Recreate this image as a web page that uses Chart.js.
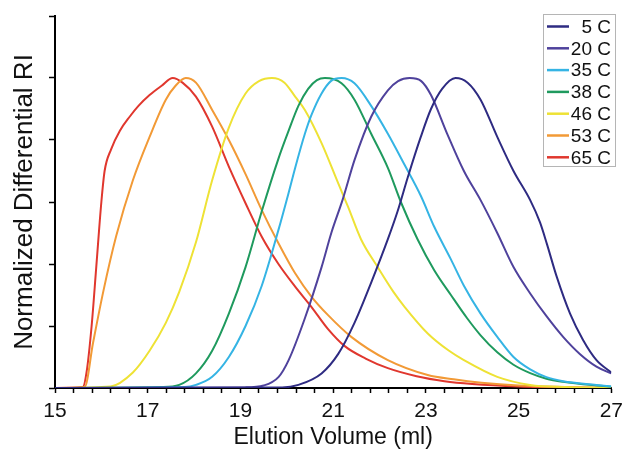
<!DOCTYPE html>
<html>
<head>
<meta charset="utf-8">
<script src="https://cdn.jsdelivr.net/npm/chart.js@4"></script>
<style>
  html, body { margin: 0; padding: 0; background: #fff; }
  #wrap { width: 629px; height: 450px; }
</style>
</head>
<body>
<div id="wrap"><canvas id="chart" width="629" height="450"></canvas></div>
<script>
// Legend labels, in legend order
const seriesLabels = ['5 C', '20 C', '35 C', '38 C', '46 C', '53 C', '65 C'];
const seriesColors = ['#2e2b82', '#4f429c', '#35b4e4', '#1f9a5e', '#eee235', '#f29a36', '#e0372e'];

// Elution volume (ml) / normalized RI
const vol5 = [15, 19.9, 20.25, 20.75, 21.11, 21.46, 21.82, 22.18, 22.39, 22.61, 22.89, 23.11, 23.35, 23.64, 23.9, 24.18, 24.54, 24.89, 25.25, 25.46, 25.61, 25.82, 26.11, 26.39, 26.68, 27];
const ri5  = [0, 0.002, 0.01, 0.047, 0.11, 0.21, 0.34, 0.48, 0.57, 0.68, 0.81, 0.90, 0.965, 1.0, 0.985, 0.93, 0.81, 0.70, 0.606, 0.535, 0.465, 0.36, 0.24, 0.155, 0.09, 0.05];

const vol20 = [15, 19.1, 19.5, 19.82, 20.04, 20.39, 20.75, 20.96, 21.21, 21.46, 21.82, 22.18, 22.4, 22.65, 22.9, 23.11, 23.46, 23.82, 24.18, 24.54, 24.89, 25.25, 25.61, 25.96, 26.32, 26.68, 27];
const ri20  = [0, 0.002, 0.008, 0.035, 0.09, 0.225, 0.39, 0.50, 0.61, 0.735, 0.875, 0.96, 0.99, 1.0, 0.99, 0.945, 0.82, 0.70, 0.606, 0.50, 0.39, 0.305, 0.23, 0.165, 0.11, 0.069, 0.047];

const vol35 = [15, 17.8, 18.04, 18.39, 18.75, 19.11, 19.46, 19.82, 20.04, 20.18, 20.39, 20.53, 20.75, 20.95, 21.18, 21.46, 21.82, 22.18, 22.54, 22.89, 23.18, 23.54, 23.82, 24.18, 24.54, 24.89, 25.25, 25.6, 25.96, 26.68, 27];
const ri35  = [0, 0.003, 0.01, 0.036, 0.10, 0.20, 0.33, 0.51, 0.63, 0.71, 0.82, 0.88, 0.95, 0.99, 1.0, 0.983, 0.91, 0.82, 0.72, 0.62, 0.52, 0.415, 0.33, 0.24, 0.165, 0.10, 0.06, 0.035, 0.022, 0.01, 0.005];

const vol38 = [15, 17.3, 17.68, 18.04, 18.39, 18.75, 19.11, 19.46, 19.82, 20.04, 20.25, 20.46, 20.65, 20.82, 21.18, 21.46, 21.82, 22.18, 22.46, 22.82, 23.18, 23.54, 23.89, 24.18, 24.54, 24.89, 25.25, 25.6, 25.96, 26.68, 27];
const ri38  = [0, 0.003, 0.01, 0.047, 0.12, 0.24, 0.39, 0.57, 0.74, 0.83, 0.91, 0.965, 0.993, 1.0, 0.983, 0.93, 0.82, 0.71, 0.60, 0.48, 0.38, 0.30, 0.225, 0.17, 0.115, 0.075, 0.048, 0.03, 0.02, 0.008, 0.004];

const vol46 = [15, 16.2, 16.68, 17.04, 17.39, 17.68, 18.04, 18.39, 18.75, 19.11, 19.4, 19.68, 19.95, 20.18, 20.39, 20.75, 21.11, 21.32, 21.6, 21.96, 22.3, 22.54, 23.04, 23.5, 23.82, 24.54, 25.25, 26, 27];
const ri46  = [0, 0.005, 0.05, 0.12, 0.21, 0.31, 0.47, 0.67, 0.84, 0.95, 0.99, 1.0, 0.985, 0.94, 0.897, 0.79, 0.66, 0.585, 0.48, 0.39, 0.31, 0.262, 0.176, 0.12, 0.09, 0.036, 0.01, 0.003, 0];

const vol53 = [15, 15.64, 15.82, 16.04, 16.32, 16.68, 17.04, 17.39, 17.6, 17.82, 18.04, 18.39, 18.75, 19.11, 19.46, 19.82, 20.18, 20.53, 20.89, 21.39, 22.18, 23.04, 23.6, 24.2, 25, 26, 27];
const ri53  = [0, 0.003, 0.145, 0.31, 0.49, 0.67, 0.81, 0.93, 0.975, 1.0, 0.985, 0.897, 0.80, 0.69, 0.574, 0.467, 0.37, 0.295, 0.235, 0.165, 0.09, 0.042, 0.028, 0.017, 0.008, 0.003, 0];

const vol65 = [15, 15.6, 15.68, 15.79, 15.89, 16.0, 16.07, 16.21, 16.4, 16.61, 16.8, 17.04, 17.3, 17.54, 17.75, 18.04, 18.39, 18.75, 19.11, 19.46, 19.82, 20.18, 20.53, 20.89, 21.25, 21.7, 22.18, 22.8, 23.4, 24, 25, 26, 27];
const ri65  = [0, 0.003, 0.05, 0.2, 0.39, 0.6, 0.7, 0.77, 0.83, 0.875, 0.91, 0.945, 0.975, 1.0, 0.985, 0.94, 0.843, 0.714, 0.596, 0.488, 0.40, 0.327, 0.262, 0.19, 0.135, 0.095, 0.064, 0.038, 0.022, 0.013, 0.005, 0.002, 0];

// Axis ticks
const xTickLabels = [15, 17, 19, 21, 23, 25, 27];
const xMinorStep = 0.4;
const yTicks = [0, 0.2, 0.4, 0.6, 0.8, 1.0, 1.2];

const volumes = [vol5, vol20, vol35, vol38, vol46, vol53, vol65];
const responses = [ri5, ri20, ri35, ri38, ri46, ri53, ri65];

const FONT = "'Liberation Sans', Arial, Helvetica, sans-serif";

function toPoints(xs, ys) {
  return xs.map((x, i) => ({ x: x, y: ys[i] }));
}

// Boxed legend in the top right corner
const boxLegend = {
  id: 'boxLegend',
  afterDraw(chart) {
    const ctx = chart.ctx;
    const left = 543, top = 14, w = 72, h = 152;
    ctx.save();
    ctx.fillStyle = '#fff';
    ctx.fillRect(left, top, w, h);
    ctx.strokeStyle = '#b5b5b5';
    ctx.lineWidth = 1;
    ctx.strokeRect(left + 0.5, top + 0.5, w, h);
    ctx.font = '19px ' + FONT;
    ctx.textAlign = 'right';
    ctx.textBaseline = 'middle';
    chart.data.datasets.forEach((ds, i) => {
      const y = top + 12.5 + i * 21.8;
      ctx.strokeStyle = ds.borderColor;
      ctx.lineWidth = 2.5;
      ctx.beginPath();
      ctx.moveTo(left + 4, y);
      ctx.lineTo(left + 26, y);
      ctx.stroke();
      ctx.fillStyle = '#111';
      ctx.fillText(ds.label, left + 68, y + 1);
    });
    ctx.restore();
  }
};

const datasets = seriesLabels.map((label, i) => ({
  label: label,
  data: toPoints(volumes[i], responses[i]),
  borderColor: seriesColors[i],
  backgroundColor: seriesColors[i],
  borderWidth: 2,
  pointRadius: 0,
  cubicInterpolationMode: 'monotone',
  fill: false
}));

new Chart(document.getElementById('chart'), {
  type: 'line',
  data: { datasets: datasets },
  options: {
    responsive: false,
    animation: false,
    layout: { padding: { top: 16, right: 14, left: 0, bottom: 0 } },
    plugins: {
      legend: { display: false },
      tooltip: { enabled: false }
    },
    scales: {
      x: {
        type: 'linear',
        min: 15,
        max: 27,
        afterBuildTicks: scale => {
          const ticks = [];
          for (let i = 0; i <= Math.round((27 - 15) / xMinorStep); i++) {
            ticks.push({ value: Math.round((15 + i * xMinorStep) * 10) / 10 });
          }
          scale.ticks = ticks;
        },
        afterFit: scale => { scale.height = 62; },
        ticks: {
          autoSkip: false,
          maxRotation: 0,
          padding: 6,
          color: '#111',
          font: { family: FONT, size: 21 },
          callback: v => xTickLabels.includes(v) ? String(v) : ''
        },
        grid: { drawOnChartArea: false, tickLength: 5, tickColor: '#000', tickWidth: 1.5 },
        border: { color: '#000', width: 2 },
        title: {
          display: true,
          text: 'Elution Volume (ml)',
          color: '#111',
          font: { family: FONT, size: 23, lineHeight: 1 },
          padding: { top: 0, bottom: 1 }
        }
      },
      y: {
        min: 0,
        max: 1.2,
        afterBuildTicks: scale => { scale.ticks = yTicks.map(v => ({ value: v })); },
        afterFit: scale => { scale.width = 55; },
        ticks: { display: false },
        grid: { drawOnChartArea: false, tickLength: 6, tickColor: '#000', tickWidth: 1.5 },
        border: { color: '#000', width: 2 },
        title: {
          display: true,
          text: 'Normalized Differential RI',
          color: '#111',
          font: { family: FONT, size: 26, lineHeight: 1 },
          padding: { top: 12, bottom: 0 }
        }
      }
    }
  },
  plugins: [boxLegend]
});
</script>
</body>
</html>
